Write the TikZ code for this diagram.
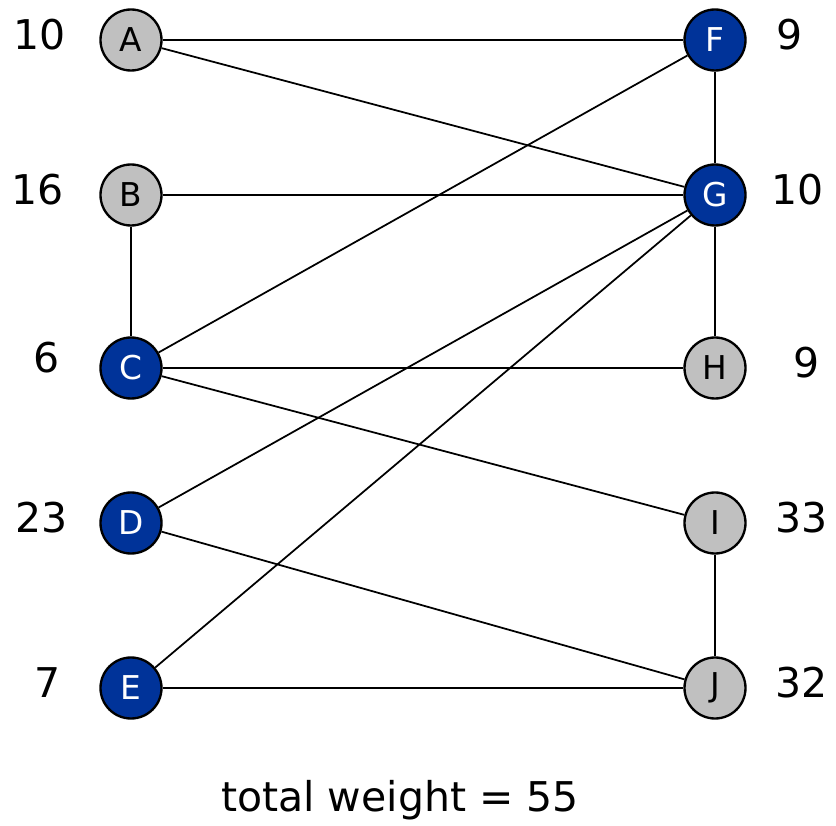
\documentclass[tikz,border=0pt]{standalone}
\usepackage{fontspec}
\setmainfont{DejaVu Sans}
\usepackage{tikz}
\usepackage{xcolor}
\usetikzlibrary{shapes.geometric}
\definecolor{matchblue}{RGB}{0,51,153}
\definecolor{freegray}{RGB}{192,192,192}
\tikzstyle{light} = [circle, minimum size=1.83cm, inner sep=0pt, line width=2pt, draw=black, fill=freegray, font=\fontsize{28}{28}\selectfont]
\tikzstyle{dark} = [circle, minimum size=1.83cm, inner sep=0pt, line width=2pt, draw=black, fill=matchblue, text=white, font=\fontsize{28}{28}\selectfont]
\tikzstyle{weight} = [inner sep=0pt, yshift=0.15cm, font=\fontsize{35}{35}\selectfont]
\tikzstyle{link} = [line width=1.5pt, black]

\begin{document}
\begin{tikzpicture}[node distance=4.65cm]
		\useasboundingbox (0,0) rectangle (25.08,-24.78);
		\node (A) [light] at (3.93,-1.2) {A};
		\node (B) [light, below of=A] {B};
		\node (C) [dark, below of=B, yshift=-0.54cm] {C};
		\node (D) [dark, below of=C] {D};
		\node (E) [dark, below of=D, yshift=-0.3cm] {E};
		\node (F) [dark, right of=A, xshift=12.87cm] {F};
		\node (G) [dark, right of=B, xshift=12.87cm] {G};
		\node (H) [light, right of=C, xshift=12.87cm] {H};
		\node (I) [light, right of=D, xshift=12.87cm] {I};
		\node (J) [light, right of=E, xshift=12.87cm] {J};
		
		\node (wA) [weight, left of=A, node distance=2.73cm] {10};
		\node (wB) [weight, left of=B, node distance=2.79cm] {16};
		\node (wC) [weight, left of=C, node distance=2.52cm, yshift=0.15cm] {6};
		\node (wD) [weight, left of=D, node distance=2.67cm] {23};
		\node (wE) [weight, left of=E, node distance=2.49cm] {7};
		\node (wF) [weight, right of=F, node distance=2.25cm] {9};
		\node (wG) [weight, right of=G, node distance=2.49cm] {10};
		\node (wH) [weight, right of=H, node distance=2.76cm] {9};
		\node (wI) [weight, right of=I, node distance=2.61cm] {33};
		\node (wJ) [weight, right of=J, node distance=2.61cm] {32};
		\node (total) [weight] at (12,-24.15) {total weight = 55};
		
		\draw [link] (A) -- (F);
		\draw [link] (A) -- (G);
		\draw [link] (B) -- (G);
		\draw [link] (B) -- (C);
		\draw [link] (C) -- (F);
		\draw [link] (C) -- (H);
		\draw [link] (C) -- (I);
		\draw [link] (D) -- (G);
		\draw [link] (D) -- (J);
		\draw [link] (E) -- (G);
		\draw [link] (E) -- (J);
		\draw [link] (F) -- (G);
		\draw [link] (G) -- (H);
		\draw [link] (I) -- (J);
	\end{tikzpicture}
\end{document}
